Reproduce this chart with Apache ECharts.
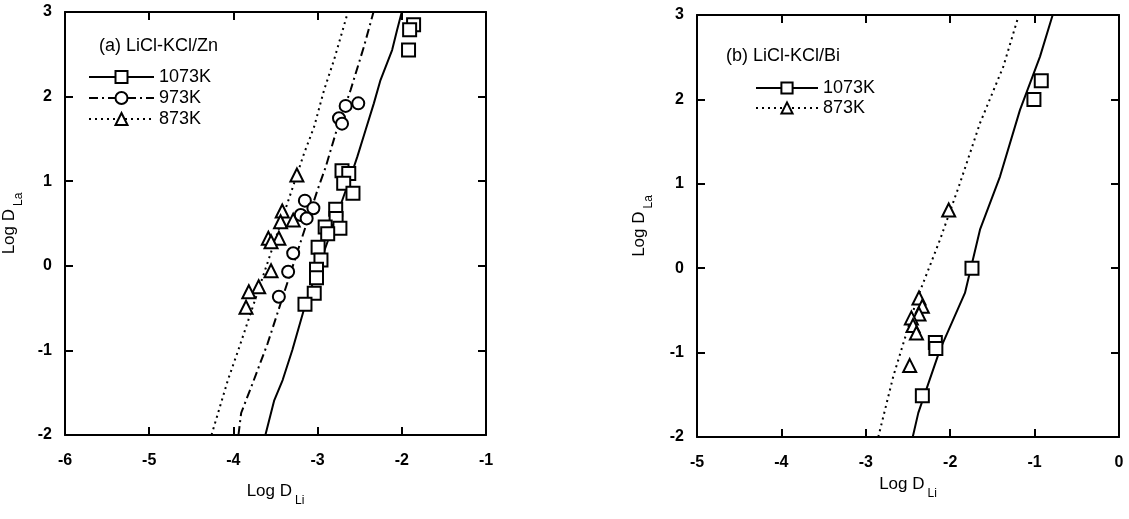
<!DOCTYPE html>
<html>
<head>
<meta charset="utf-8">
<script src="https://cdn.jsdelivr.net/npm/echarts@6/dist/echarts.min.js"></script>
<style>
  html, body { margin: 0; padding: 0; background: #fff; }
  #chart { width: 1129px; height: 519px; }
</style>
</head>
<body>
<div id="chart"></div>
<script>
// ---- data: [Log D_Li, Log D_La] ----
// (a) LiCl-KCl/Zn
var zn1073Pts = [[-1.86, 2.85], [-1.907, 2.79], [-1.92, 2.55],
    [-2.71, 1.125], [-2.63, 1.09], [-2.69, 0.975], [-2.58, 0.857],
    [-2.785, 0.668], [-2.78, 0.56], [-2.91, 0.46], [-2.735, 0.443], [-2.88, 0.38],
    [-2.994, 0.219], [-2.96, 0.07], [-3.013, -0.04], [-3.013, -0.14], [-3.04, -0.325], [-3.15, -0.455]];
var zn973Pts = [[-2.517, 1.92], [-2.667, 1.89], [-2.746, 1.744], [-2.71, 1.68],
    [-3.151, 0.77], [-3.05, 0.68], [-3.2, 0.6], [-3.13, 0.56],
    [-3.29, 0.148], [-3.35, -0.07], [-3.46, -0.365]];
var zn873Pts = [[-3.246, 1.073], [-3.42, 0.648], [-3.44, 0.52], [-3.29, 0.54],
    [-3.585, 0.325], [-3.46, 0.325], [-3.553, 0.285], [-3.553, -0.058],
    [-3.7, -0.247], [-3.817, -0.306], [-3.85, -0.49]];
var zn1073Line = [[-3.62, -2], [-3.515, -1.59], [-3.415, -1.35], [-3.3, -0.995], [-3.14, -0.44],
    [-2.608, 1.053], [-2.528, 1.29], [-2.43, 1.605], [-2.332, 1.92], [-2.253, 2.196],
    [-2.115, 2.55], [-2.056, 2.787], [-2.0, 3]];
var zn973Line = [[-3.94, -2], [-3.908, -1.74], [-3.77, -1.385], [-3.593, -0.916], [-3.001, 0.896],
    [-2.903, 1.17], [-2.785, 1.566], [-2.608, 2.078], [-2.45, 2.59], [-2.336, 3]];
var zn873Line = [[-4.26, -2], [-4.065, -1.35], [-3.928, -0.956], [-3.16, 1.33], [-3.041, 1.644],
    [-2.923, 2.078], [-2.805, 2.433], [-2.64, 3]];

// (b) LiCl-KCl/Bi
var bi1073Pts = [[-0.921, 2.22], [-1.008, 2.0], [-1.742, 0.0], [-2.176, -0.88], [-2.17, -0.95], [-2.33, -1.51]];
var bi873Pts = [[-2.018, 0.69], [-2.37, -0.353], [-2.33, -0.452], [-2.37, -0.542],
    [-2.46, -0.589], [-2.44, -0.68], [-2.4, -0.767], [-2.48, -1.154]];
var bi1073Line = [[-2.444, -2], [-2.378, -1.714], [-2.121, -0.964], [-1.825, -0.293], [-1.647, 0.456],
    [-1.41, 1.086], [-1.173, 1.876], [-0.936, 2.507], [-0.786, 3]];
var bi873Line = [[-2.852, -2], [-2.674, -1.28], [-2.397, -0.373], [-2.121, 0.337], [-1.884, 1.008],
    [-1.647, 1.718], [-1.371, 2.388], [-1.193, 2.98]];

var panelTitles = ['(a) LiCl-KCl/Zn', '(b) LiCl-KCl/Bi'];
var xRanges = [[-6, -1], [-5, 0]];
var yRange = [-2, 3];

var FONT = 'Liberation Sans';
var nameRich = {
    a: { fontSize: 17, fontFamily: FONT, color: '#000', verticalAlign: 'top' },
    b: { fontSize: 12, fontFamily: FONT, color: '#000', verticalAlign: 'top', padding: [12, 0, 0, 3] }
};

function axisPair(dim, gridIndex, range, name, nameGap) {
    var common = {
        type: 'value', gridIndex: gridIndex, min: range[0], max: range[1], interval: 1,
        axisLine: { onZero: false, lineStyle: { color: '#000', width: 2 } },
        axisTick: { inside: true, length: 8, lineStyle: { color: '#000', width: 2 } },
        splitLine: { show: false }
    };
    var main = Object.assign({}, common, {
        position: dim === 'x' ? 'bottom' : 'left',
        name: name, nameLocation: 'middle', nameGap: nameGap,
        nameRotate: dim === 'x' ? 0 : 90,
        nameTextStyle: { rich: nameRich },
        axisLabel: { color: '#000', fontSize: 16, fontWeight: 'bold', fontFamily: FONT, margin: dim === 'x' ? 18 : 13 }
    });
    var mirror = Object.assign({}, common, {
        position: dim === 'x' ? 'top' : 'right',
        axisLabel: { show: false }
    });
    return [main, mirror];
}

var xAxes = axisPair('x', 0, xRanges[0], '{a|Log D}{b|Li}', 48)
    .concat(axisPair('x', 1, xRanges[1], '{a|Log D}{b|Li}', 38));
var yAxes = axisPair('y', 0, yRange, '{a|Log D}{b|La}', 40)
    .concat(axisPair('y', 1, yRange, '{a|Log D}{b|La}', 42));

function fitLine(name, data, axis, dash, symbol) {
    return {
        name: name, type: 'line', data: data, xAxisIndex: axis, yAxisIndex: axis,
        symbol: symbol, showSymbol: false, smooth: false, z: 2,
        lineStyle: { color: '#000', width: 2, type: dash },
        itemStyle: { color: '#000' }
    };
}
function points(name, data, axis, symbol, size) {
    return {
        name: name, type: 'scatter', data: data, xAxisIndex: axis, yAxisIndex: axis,
        symbol: symbol, symbolSize: size, z: 3,
        itemStyle: { color: '#fff', borderColor: '#000', borderWidth: 2, opacity: 1 }
    };
}

var titleStyle = { fontSize: 18, fontWeight: 'normal', fontFamily: FONT, color: '#000' };

var chart = echarts.init(document.getElementById('chart'));
chart.setOption({
    animation: false,
    backgroundColor: '#fff',
    title: [
        { text: panelTitles[0], left: 94, top: 32, textStyle: titleStyle },
        { text: panelTitles[1], left: 721, top: 42, textStyle: titleStyle }
    ],
    grid: [
        { left: 63, top: 12, width: 423, height: 423 },
        { left: 697, top: 15, width: 422, height: 422 }
    ],
    legend: [
        {
            data: ['1073K', '973K', '873K'], orient: 'vertical', left: 83, top: 63,
            itemWidth: 65, itemHeight: 15, itemGap: 3, selectedMode: false,
            textStyle: { fontSize: 18, lineHeight: 17, fontFamily: FONT, color: '#000' }
        },
        {
            data: ['1073K ', '873K '], orient: 'vertical', left: 750, top: 74,
            itemWidth: 62, itemHeight: 14, itemGap: 2, selectedMode: false,
            textStyle: { fontSize: 18, lineHeight: 16, fontFamily: FONT, color: '#000' }
        }
    ],
    xAxis: [xAxes[0], xAxes[1], xAxes[2], xAxes[3]],
    yAxis: [yAxes[0], yAxes[1], yAxes[2], yAxes[3]],
    series: [
        fitLine('1073K', zn1073Line, 0, 'solid', 'emptyRect'),
        fitLine('973K', zn973Line, 0, [9, 4, 2, 4], 'emptyCircle'),
        fitLine('873K', zn873Line, 0, [2, 4], 'emptyTriangle'),
        points('zn 1073K data', zn1073Pts, 0, 'rect', 13),
        points('zn 973K data', zn973Pts, 0, 'circle', 12),
        points('zn 873K data', zn873Pts, 0, 'triangle', 13),
        fitLine('1073K ', bi1073Line, 2, 'solid', 'emptyRect'),
        fitLine('873K ', bi873Line, 2, [2, 4], 'emptyTriangle'),
        points('bi 1073K data', bi1073Pts, 2, 'rect', 13),
        points('bi 873K data', bi873Pts, 2, 'triangle', 13)
    ]
});
</script>
</body>
</html>
